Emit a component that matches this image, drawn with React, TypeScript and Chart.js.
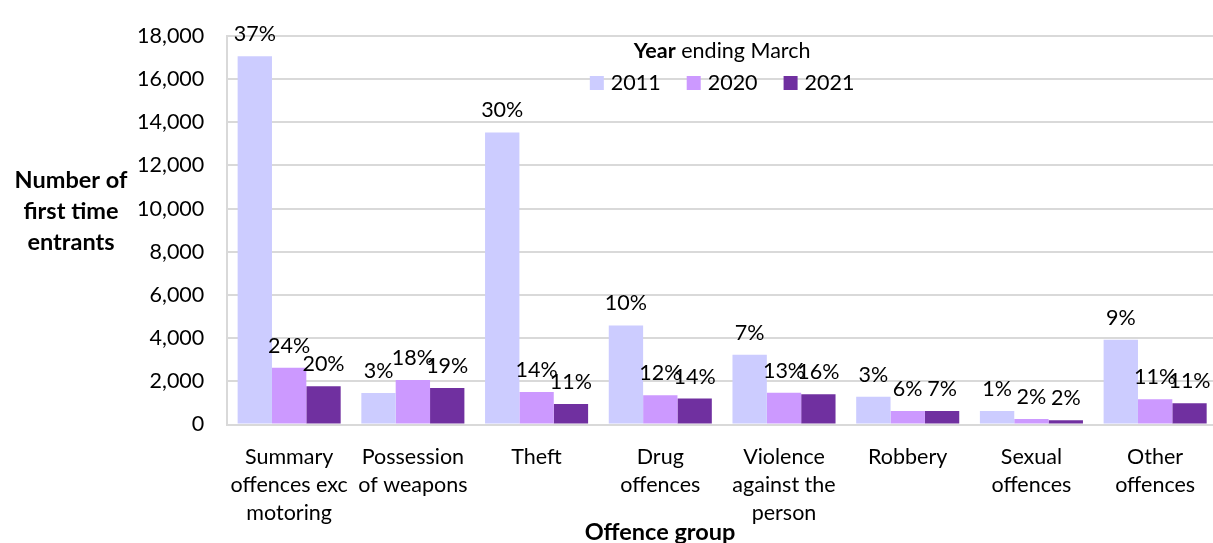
import React, { useEffect, useRef } from "react";
import { Chart, registerables } from "chart.js";

Chart.register(...registerables);

// ---- Data ----
const categories: string[][] = [
  ["Summary", "offences exc", "motoring"],
  ["Possession", "of weapons"],
  ["Theft"],
  ["Drug", "offences"],
  ["Violence", "against the", "person"],
  ["Robbery"],
  ["Sexual", "offences"],
  ["Other", "offences"],
];
const seriesLabels = ["2011", "2020", "2021"];
const values2011 = [17060, 1460, 13530, 4590, 3230, 1290, 620, 3925];
const values2020 = [2630, 2060, 1500, 1350, 1475, 620, 255, 1175];
const values2021 = [1775, 1685, 950, 1200, 1400, 630, 195, 980];
const pct2011 = [37, 3, 30, 10, 7, 3, 1, 9];
const pct2020 = [24, 18, 14, 12, 13, 6, 2, 11];
const pct2021 = [20, 19, 11, 14, 16, 7, 2, 11];
const yMin = 0;
const yMax = 18000;
const yStep = 2000;
const legendTitleBold = "Year";
const legendTitleRest = " ending March";
const yTitleLines = ["Number of", "first time", "entrants"];
const xTitle = "Offence group";

const seriesColors = ["#CCCCFF", "#CC99FF", "#7030A0"];
const FONT = "Lato, 'Open Sans', sans-serif";
const REG = 21.5;
const BOLD = 23.5;
const TEXT = "#000000";
const GRID = "#D9D9D9";

const pctPlugin = {
  id: "pctLabels",
  afterDatasetsDraw(chart: any) {
    const pcts = [pct2011, pct2020, pct2021];
    const ctx = chart.ctx;
    ctx.save();
    ctx.font = `${REG}px ${FONT}`;
    ctx.fillStyle = TEXT;
    ctx.textAlign = "center";
    ctx.textBaseline = "alphabetic";
    chart.data.datasets.forEach((_ds: any, i: number) => {
      const meta = chart.getDatasetMeta(i);
      meta.data.forEach((el: any, j: number) => {
        ctx.fillText(pcts[i][j] + "%", el.x, el.y - 15);
      });
    });
    ctx.restore();
  },
};

const decorPlugin = {
  id: "decor",
  afterDraw(chart: any) {
    const ctx = chart.ctx;
    const ca = chart.chartArea;
    const cx = (ca.left + ca.right) / 2;
    ctx.save();
    ctx.fillStyle = TEXT;
    ctx.textBaseline = "middle";

    // Legend title
    ctx.font = `bold ${REG}px ${FONT}`;
    const wb = ctx.measureText(legendTitleBold).width;
    ctx.font = `${REG}px ${FONT}`;
    const wr = ctx.measureText(legendTitleRest).width;
    let x = cx - (wb + wr) / 2;
    ctx.textAlign = "left";
    ctx.font = `bold ${REG}px ${FONT}`;
    ctx.fillText(legendTitleBold, x, 51);
    ctx.font = `${REG}px ${FONT}`;
    ctx.fillText(legendTitleRest, x + wb, 51);

    // Legend items
    const box = 14;
    const gapBT = 7;
    const itemGap = 26;
    const widths = seriesLabels.map((l) => ctx.measureText(l).width);
    const total =
      widths.reduce((a, w) => a + box + gapBT + w, 0) + itemGap * (seriesLabels.length - 1);
    x = cx - total / 2;
    const ly = 83;
    seriesLabels.forEach((l, i) => {
      ctx.fillStyle = seriesColors[i];
      ctx.fillRect(x, ly - box / 2, box, box);
      ctx.fillStyle = TEXT;
      ctx.fillText(l, x + box + gapBT, ly);
      x += box + gapBT + widths[i] + itemGap;
    });

    // Y axis title (horizontal)
    ctx.font = `bold ${BOLD}px ${FONT}`;
    ctx.textAlign = "center";
    yTitleLines.forEach((l, i) => {
      ctx.fillText(l, 71, 180 + i * 31);
    });

    // X axis title
    ctx.fillText(xTitle, 660, 532);
    ctx.restore();
  },
};

export default function App() {
  const ref = useRef<HTMLCanvasElement>(null);
  useEffect(() => {
    if (!ref.current) return;
    const chart = new Chart(ref.current, {
      type: "bar",
      data: {
        labels: categories,
        datasets: [
          { label: seriesLabels[0], data: values2011, backgroundColor: seriesColors[0] },
          { label: seriesLabels[1], data: values2020, backgroundColor: seriesColors[1] },
          { label: seriesLabels[2], data: values2021, backgroundColor: seriesColors[2] },
        ],
      },
      options: {
        responsive: false,
        animation: false,
        devicePixelRatio: 1,
        layout: { padding: { top: 25.5, right: 3, bottom: 0, left: 0 } },
        datasets: {
          bar: { categoryPercentage: 0.833, barPercentage: 1.0 },
        },
        plugins: {
          legend: { display: false },
          tooltip: { enabled: false },
          title: { display: false },
        },
        scales: {
          x: {
            grid: { display: false, drawTicks: false },
            border: { display: true, color: GRID, width: 2 },
            ticks: {
              autoSkip: false,
              maxRotation: 0,
              minRotation: 0,
              padding: 18.5,
              color: TEXT,
              font: { family: FONT, size: REG, lineHeight: 28 / REG },
            },
            afterFit: (s: any) => {
              s.height = 118.5;
            },
          },
          y: {
            min: yMin,
            max: yMax,
            ticks: {
              stepSize: yStep,
              padding: 23,
              color: TEXT,
              font: { family: FONT, size: REG },
              callback: (v: any) => Number(v).toLocaleString("en-US"),
            },
            grid: { color: GRID, lineWidth: 2, drawTicks: false },
            border: { display: true, color: GRID, width: 2 },
            afterFit: (s: any) => {
              s.width = 227.3;
            },
          },
        },
      },
      plugins: [pctPlugin, decorPlugin],
    });
    return () => chart.destroy();
  }, []);
  return (
    <div style={{ position: "fixed", left: 0, top: 0, width: 1220, height: 543, background: "#fff" }}>
      <canvas ref={ref} width={1220} height={543} style={{ display: "block" }} />
    </div>
  );
}
